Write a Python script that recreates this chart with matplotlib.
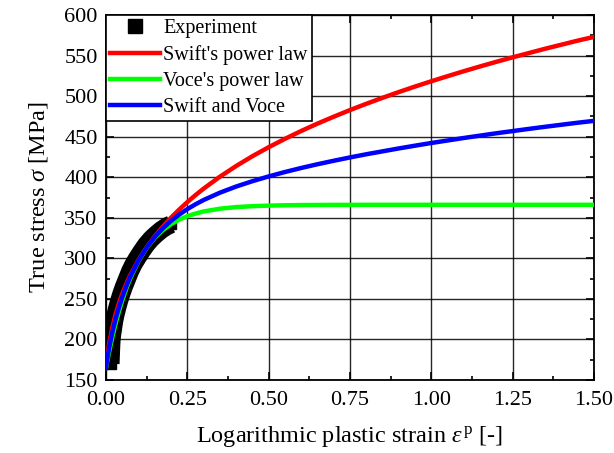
import matplotlib
matplotlib.use("Agg")
import matplotlib.pyplot as plt
from matplotlib.ticker import MultipleLocator

plt.rcParams["font.family"] = ["Liberation Serif", "DejaVu Serif"]
plt.rcParams["mathtext.fontset"] = "custom"
plt.rcParams["mathtext.rm"] = "Liberation Serif"
plt.rcParams["mathtext.it"] = "Liberation Serif:italic"

# Experimental flow curve (logarithmic plastic strain, true stress in MPa)
exp_strain = [0.014, 0.015, 0.016, 0.017, 0.019, 0.022, 0.025, 0.029, 0.034,
              0.040, 0.047, 0.055, 0.064, 0.074, 0.085, 0.097, 0.110, 0.124,
              0.139, 0.155, 0.170, 0.185, 0.200]
exp_stress = [170, 180, 190, 198, 206, 214, 222, 230, 238,
              247, 256, 265, 274, 284, 293, 301, 309, 317,
              324, 330, 335, 339, 342]

# Fitted hardening laws evaluated on a common strain grid
fit_strain = [0.0, 0.005, 0.01, 0.02, 0.03, 0.04, 0.05, 0.065, 0.075, 0.1,
              0.125, 0.15, 0.175, 0.2, 0.225, 0.25, 0.275, 0.3, 0.35, 0.4,
              0.45, 0.5, 0.55, 0.6, 0.65, 0.7, 0.75, 0.8, 0.85, 0.9, 0.95,
              1.0, 1.05, 1.1, 1.15, 1.2, 1.25, 1.3, 1.35, 1.4, 1.45, 1.5]
swift_stress = [165.1, 182.1, 195.4, 215.9, 231.8, 245.0, 256.3, 270.9, 279.5,
                298.0, 313.6, 327.2, 339.3, 350.2, 360.1, 369.3, 377.9, 385.9,
                400.6, 413.8, 425.9, 437.0, 447.3, 457.0, 466.1, 474.6, 482.8,
                490.5, 497.9, 505.0, 511.8, 518.3, 524.6, 530.7, 536.6, 542.3,
                547.8, 553.1, 558.4, 563.4, 568.4, 573.0]
voce_stress = [165.0, 175.4, 185.3, 203.6, 220.0, 234.7, 248.0, 265.4, 275.6,
               296.7, 312.9, 325.3, 334.8, 342.1, 347.7, 352.0, 355.2, 357.8,
               361.2, 363.2, 364.3, 365.0, 365.4, 365.7, 365.8, 365.9, 365.9,
               366.0, 366.0, 366.0, 366.0, 366.0, 366.0, 366.0, 366.0, 366.0,
               366.0, 366.0, 366.0, 366.0, 366.0, 366.0]
swift_voce_stress = [165.1, 178.8, 190.4, 209.8, 225.9, 239.9, 252.2, 268.2,
                     277.6, 297.4, 313.3, 326.3, 337.1, 346.2, 353.9, 360.7,
                     366.6, 371.9, 380.9, 388.5, 395.1, 401.0, 406.4, 411.4,
                     416.0, 420.3, 424.4, 428.3, 431.9, 435.5, 438.9, 442.2,
                     445.3, 448.4, 451.3, 454.2, 456.9, 459.6, 462.2, 464.7,
                     467.2, 469.5]

x_ticks = [0.00, 0.25, 0.50, 0.75, 1.00, 1.25, 1.50]
y_ticks = [150, 200, 250, 300, 350, 400, 450, 500, 550, 600]

fig = plt.figure(figsize=(6.14, 4.53), dpi=100)
ax = fig.add_axes([0.1726, 0.1611, 0.7948, 0.8058])

# Experiment: densely packed square markers merge into one thick band
ax.plot(exp_strain, exp_stress, color="black", lw=13, solid_capstyle="butt",
        solid_joinstyle="round", zorder=2)
ax.plot(exp_strain, exp_stress, ls="none", marker="s", ms=7, color="black",
        label="Experiment", zorder=2)

ax.plot(fit_strain, swift_stress, color="#ff0000", lw=3.2,
        label="Swift's power law", zorder=3)
ax.plot(fit_strain, voce_stress, color="#00ff00", lw=3.2,
        label="Voce's power law", zorder=4)
ax.plot(fit_strain, swift_voce_stress, color="#0000ff", lw=3.2,
        label="Swift and Voce", zorder=5)

ax.set_xlim(0, 1.5)
ax.set_ylim(150, 600)
ax.set_xticks(x_ticks)
ax.set_yticks(y_ticks)
ax.set_xticklabels([f"{v:.2f}" for v in x_ticks])
ax.set_yticklabels([str(v) for v in y_ticks])
ax.xaxis.set_minor_locator(MultipleLocator(0.125))
ax.yaxis.set_minor_locator(MultipleLocator(25))

ax.grid(True, which="major", color="black", lw=1.0, alpha=0.85)
ax.set_axisbelow(True)
ax.tick_params(which="both", direction="in", top=True, right=True,
               labelsize=16, width=1.2)
ax.tick_params(axis="x", pad=8)
ax.tick_params(axis="y", pad=6)
ax.tick_params(which="major", length=6)
ax.tick_params(which="minor", length=3)
for s in ax.spines.values():
    s.set_linewidth(1.3)

ax.set_xlabel(r"Logarithmic plastic strain $\varepsilon^{\,\mathrm{p}}$ [-]",
              fontsize=17.5, labelpad=10)
ax.set_ylabel(r"True stress $\sigma$ [MPa]", fontsize=17.5, labelpad=10)

leg = ax.legend(loc="upper left", borderaxespad=0, fancybox=False,
                framealpha=1, edgecolor="black", fontsize=14.5,
                handlelength=2.5, handletextpad=0.15, labelspacing=0.35,
                borderpad=0.2)
leg.get_frame().set_linewidth(1.2)
leg.legend_handles[0].set_markersize(9.5)

fig.savefig("out.png", dpi=100)
